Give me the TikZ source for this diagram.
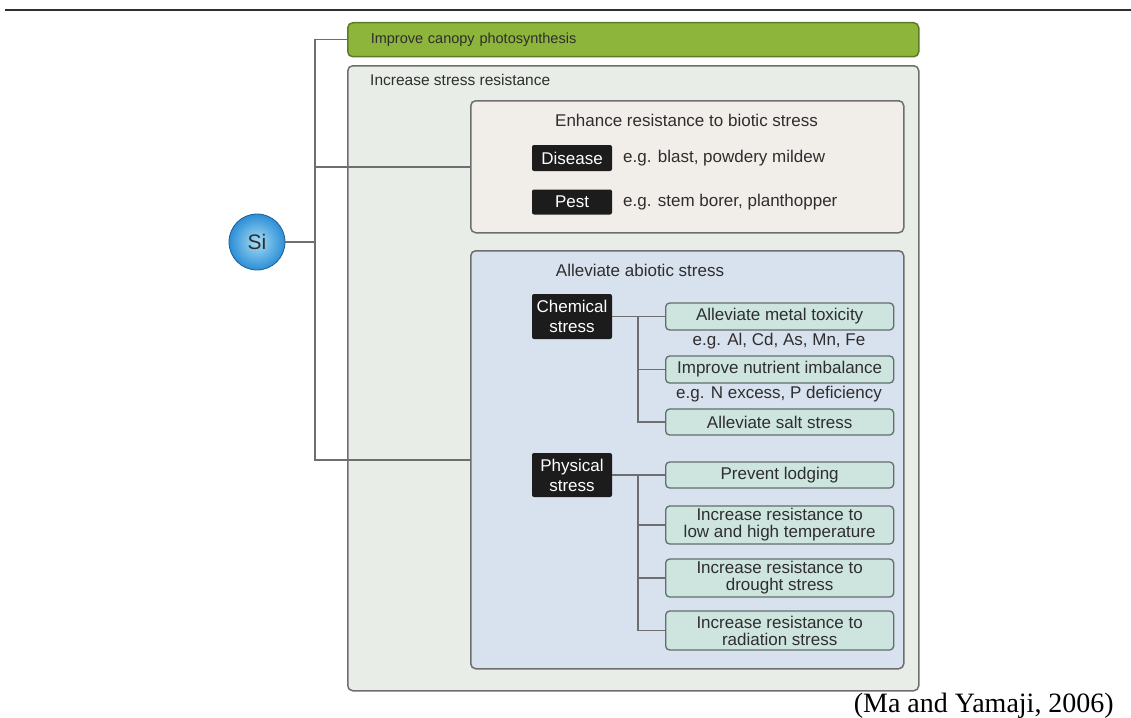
\documentclass[tikz,border=0pt]{standalone}
\usepackage{fontspec}
\setmainfont{Liberation Sans}
\newfontfamily\citefont{Liberation Serif}
\usepackage{tikz}

\definecolor{linegray}{HTML}{6E6E6E}
\definecolor{leafgreen}{HTML}{8DB43B}
\definecolor{leafedge}{HTML}{5E7A22}
\definecolor{outerfill}{HTML}{E9EDE7}
\definecolor{biofill}{HTML}{F1EEEA}
\definecolor{abiofill}{HTML}{D8E1EE}
\definecolor{tealfill}{HTML}{CDE5DE}
\definecolor{tealedge}{HTML}{5F706B}
\definecolor{inkgray}{HTML}{2E2E2E}
\definecolor{tagblack}{HTML}{1C1C1C}
\definecolor{siinner}{HTML}{A6DCF6}
\definecolor{siouter}{HTML}{2C8ED6}
\definecolor{siedge}{HTML}{1E5E96}

\begin{document}
\begin{tikzpicture}[x=1pt,y=-1pt,
    panel/.style={draw=linegray, line width=1.5pt, rounded corners=5pt, anchor=north west, inner sep=0pt},
    tag/.style={fill=tagblack, text=white, rounded corners=2pt, minimum width=80pt, align=center,
                inner sep=1pt, font=\fontsize{17}{20}\selectfont},
    effect/.style={draw=tealedge, fill=tealfill, line width=1.3pt, rounded corners=4pt, anchor=west,
                   minimum width=228pt, align=center, inner sep=1pt, text=inkgray,
                   font=\fontsize{17}{17}\selectfont},
    plain/.style={text=inkgray, inner sep=0pt, font=\fontsize{17}{17}\selectfont},
    link/.style={draw=linegray, line width=1.5pt}]
    \useasboundingbox (0,0) rectangle (1131,717);
    \draw[line width=2pt, inkgray] (5,10) -- (1131,10);

    % big panels
    \node[panel, fill=outerfill, minimum width=571pt, minimum height=625pt] (stress) at (347,65) {};
    \node[plain, anchor=west, font=\fontsize{15.5}{15.5}\selectfont] (stresslabel) at (370,80) {Increase stress resistance};
    \node[panel, draw=leafedge, fill=leafgreen, minimum height=34pt, text width=525pt,
          inner xsep=23pt, align=left, text=inkgray, font=\fontsize{14.5}{14.5}\selectfont] (canopy) at (347,22) {Improve canopy photosynthesis};

    % biotic
    \node[panel, fill=biofill, minimum width=433pt, minimum height=132pt] (biotic) at (470,100) {};
    \node[plain] (biotitle) at (686.5,120) {Enhance resistance to biotic stress};
    \node[tag, minimum height=26pt] (disease) at (572,158) {Disease};
    \node[tag, minimum height=25pt] (pest) at (572,202) {Pest};
    \node[plain, anchor=west] (diseaseeg) at (623,158) {e.g. blast, powdery mildew};
    \node[plain, anchor=west] (pesteg) at (623,202) {e.g. stem borer, planthopper};

    % abiotic
    \node[panel, fill=abiofill, minimum width=433pt, minimum height=418pt] (abiotic) at (470,250) {};
    \node[plain] (abiotitle) at (640,270) {Alleviate abiotic stress};
    \node[tag, minimum height=45pt] (chem) at (572,316.5) {Chemical\\stress};
    \node[tag, minimum height=44pt] (phys) at (572,475) {Physical\\stress};

    \node[effect, minimum height=27pt] (metal) at (665,316.5) {Alleviate metal toxicity};
    \node[plain] (metaleg) at (779,341) {e.g. Al, Cd, As, Mn, Fe};
    \node[effect, minimum height=27pt] (nutrient) at (665,369.5) {Improve nutrient imbalance};
    \node[plain] (nutrienteg) at (779,394) {e.g. N excess, P deficiency};
    \node[effect, minimum height=26pt] (salt) at (665,422) {Alleviate salt stress};

    \node[effect, minimum height=26pt] (lodging) at (665,475) {Prevent lodging};
    \node[effect, minimum height=38pt] (temp) at (665,525) {Increase resistance to\\low and high temperature};
    \node[effect, minimum height=38pt] (drought) at (665,578) {Increase resistance to\\drought stress};
    \node[effect, minimum height=39pt] (radiation) at (665,630.5) {Increase resistance to\\radiation stress};

    % Si
    \node[circle, draw=siedge, line width=0.8pt, minimum size=56pt, shading=radial,
          inner color=siinner, outer color=siouter, text=inkgray,
          font=\fontsize{21}{21}\selectfont] (si) at (257,242) {Si};

    % links
    \coordinate (sibus) at (315,242);
    \draw[link] (si) -- (sibus);
    \foreach \n in {canopy,biotic,abiotic}
        \draw[link] (sibus) |- (\n.west);
    \coordinate (chembus) at (638,316.5);
    \draw[link] (chem.east) -- (metal.west);
    \foreach \n in {nutrient,salt}
        \draw[link] (chembus) |- (\n.west);
    \coordinate (physbus) at (638,475);
    \draw[link] (phys.east) -- (lodging.west);
    \foreach \n in {temp,drought,radiation}
        \draw[link] (physbus) |- (\n.west);

    \node[anchor=base east, inner sep=0pt, font=\citefont\fontsize{28}{28}\selectfont] (source) at (1114,712) {(Ma and Yamaji, 2006)};
\end{tikzpicture}
\end{document}
